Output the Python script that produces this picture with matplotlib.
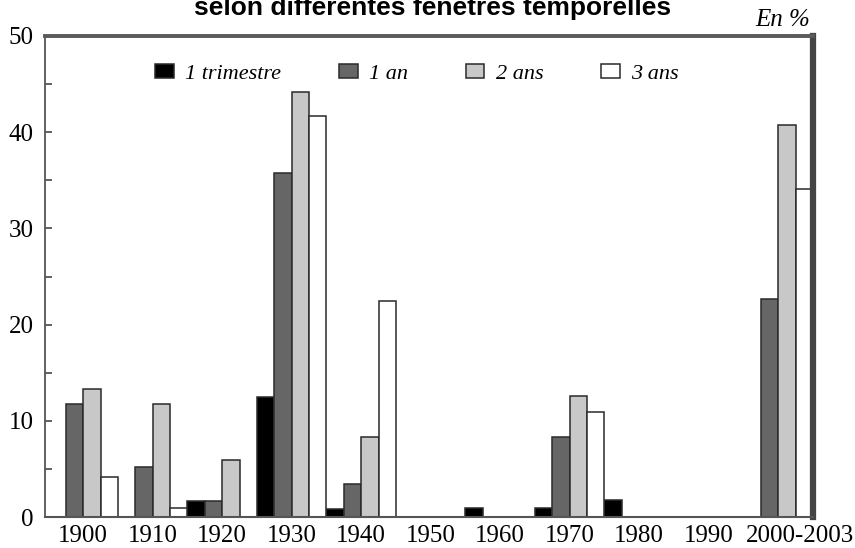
import matplotlib
matplotlib.use('Agg')
import matplotlib.pyplot as plt
import matplotlib.transforms as mtransforms
import numpy as np

#data
decades = ['1900', '1910', '1920', '1930', '1940', '1950', '1960', '1970', '1980', '1990', '2000-2003']
series = ['1 trimestre', '1 an', '2 ans', '3 ans']
trimestre = [0, 0, 1.7, 12.5, 0.8, 0, 0.9, 0.9, 1.8, 0, 0]
un_an = [11.7, 5.2, 1.7, 35.8, 3.4, 0, 0, 8.3, 0, 0, 22.7]
deux_ans = [13.3, 11.7, 5.9, 44.2, 8.3, 0, 0, 12.6, 0, 0, 40.7]
trois_ans = [4.2, 0.9, 0, 41.7, 22.5, 0, 0, 10.9, 0, 0, 34.1]
colors = ['#000000', '#666666', '#c8c8c8', '#ffffff']

fig = plt.figure(figsize=(8.55, 5.48), dpi=100)
ax = fig.add_axes([45 / 855, 31 / 548, 768 / 855, 481 / 548])

x = np.arange(len(decades))
w = 0.25
values = [trimestre, un_an, deux_ans, trois_ans]
for i in range(4):
    ax.bar(x + (i - 1.5) * w, values[i], w, color=colors[i], edgecolor='#2a2a2a',
           linewidth=1.1, label=series[i])

ax.set_xlim(-0.55, 10.5)
ax.set_ylim(0, 50)
ax.set_xticks(x)
ax.set_xticklabels(decades, fontfamily='Liberation Serif', fontsize=18)
ax.set_yticks([0, 10, 20, 30, 40, 50])
ax.set_yticks([5, 15, 25, 35, 45], minor=True)
ax.tick_params(axis='x', length=0, pad=6)
ax.tick_params(axis='y', which='both', direction='in', length=5, width=1.3, color='#555555', pad=8)
for lab in ax.get_yticklabels():
    lab.set_fontfamily('Liberation Serif')
    lab.set_fontsize(18)

#last label sits a bit to the right in the original
last = ax.get_xticklabels()[-1]
last.set_transform(last.get_transform() + mtransforms.ScaledTranslation(0.22, 0, fig.dpi_scale_trans))

#frame
ax.spines['left'].set_color('#555555')
ax.spines['left'].set_linewidth(1.3)
ax.spines['bottom'].set_color('#555555')
ax.spines['bottom'].set_linewidth(1.5)
ax.spines['top'].set_color('#5a5a5a')
ax.spines['top'].set_linewidth(2.8)
ax.spines['right'].set_color('#444444')
ax.spines['right'].set_linewidth(4.5)

leg = ax.legend(loc='center left', bbox_to_anchor=(110 / 768, 0.921), ncol=4, frameon=False,
                prop={'family': 'Liberation Serif', 'style': 'italic', 'size': 16},
                borderpad=0, borderaxespad=0,
                handlelength=0.85, handleheight=0.6, handletextpad=0.5, columnspacing=2.6)

fig.text(810 / 855, 1 - 20 / 548, 'En %', ha='right', va='center', fontfamily='Liberation Serif',
         fontstyle='italic', fontsize=18)
fig.text(0.506, 1 - 15 / 548, 'selon différentes fenêtres temporelles', ha='center',
         va='baseline', fontfamily='Liberation Sans', fontweight='bold', fontsize=19)

fig.savefig('out.png', dpi=100)
